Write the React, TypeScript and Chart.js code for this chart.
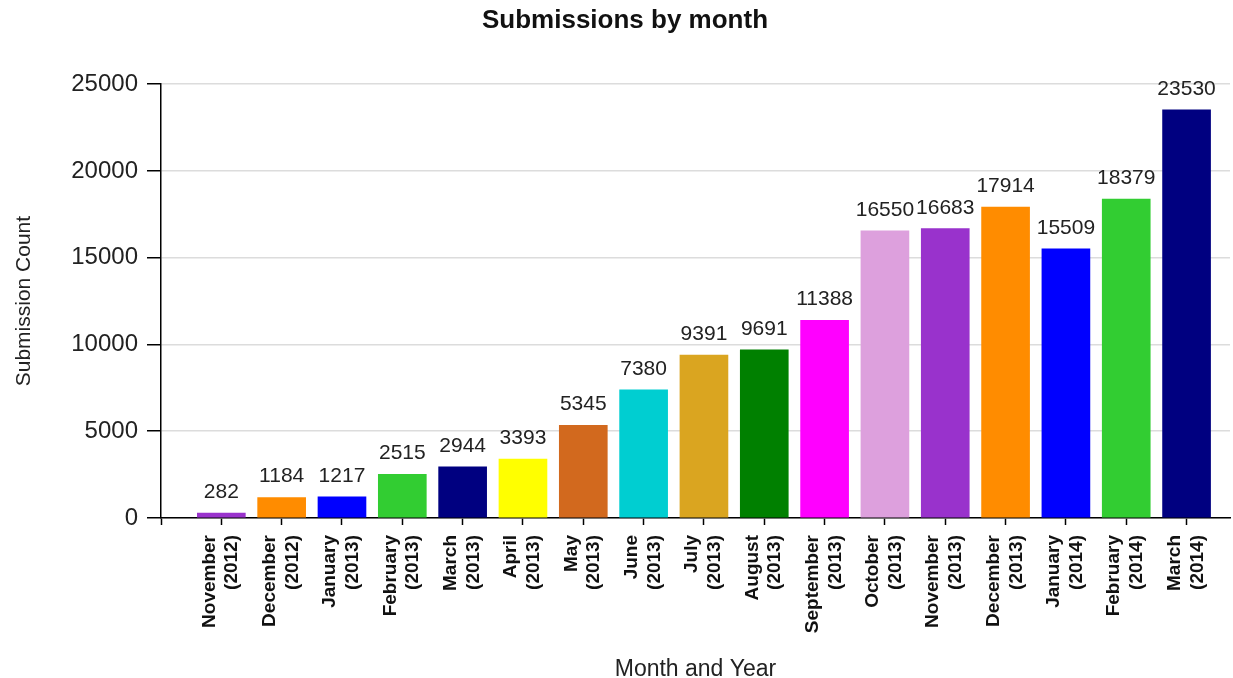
import React, { useEffect, useRef } from "react";
import { Chart, registerables } from "chart.js";

Chart.register(...registerables);

const monthLabels: string[][] = [
  ["November", "(2012)"],
  ["December", "(2012)"],
  ["January", "(2013)"],
  ["February", "(2013)"],
  ["March", "(2013)"],
  ["April", "(2013)"],
  ["May", "(2013)"],
  ["June", "(2013)"],
  ["July", "(2013)"],
  ["August", "(2013)"],
  ["September", "(2013)"],
  ["October", "(2013)"],
  ["November", "(2013)"],
  ["December", "(2013)"],
  ["January", "(2014)"],
  ["February", "(2014)"],
  ["March", "(2014)"],
];

const submissionCounts: number[] = [
  282, 1184, 1217, 2515, 2944, 3393, 5345, 7380, 9391, 9691, 11388, 16550,
  16683, 17914, 15509, 18379, 23530,
];

const barColors: string[] = [
  "#9932CC", "#FF8C00", "#0000FF", "#32CD32", "#000080", "#FFFF00",
  "#D2691E", "#00CED1", "#DAA520", "#008000", "#FF00FF", "#DDA0DD",
  "#9932CC", "#FF8C00", "#0000FF", "#32CD32", "#000080",
];

const yTicks: number[] = [0, 5000, 10000, 15000, 20000, 25000];

const FONT = "'Liberation Sans', Arial, Helvetica, sans-serif";

const valueLabelPlugin = {
  id: "valueLabels",
  afterDatasetsDraw(chart: any) {
    const ctx = chart.ctx;
    const meta = chart.getDatasetMeta(0);
    ctx.save();
    ctx.font = `21px ${FONT}`;
    ctx.fillStyle = "#222";
    ctx.textAlign = "center";
    ctx.textBaseline = "alphabetic";
    meta.data.forEach((bar: any, i: number) => {
      ctx.fillText(String(submissionCounts[i]), bar.x, bar.y - 15);
    });
    ctx.restore();
  },
};

export default function App() {
  const canvasRef = useRef<HTMLCanvasElement | null>(null);

  useEffect(() => {
    if (!canvasRef.current) return;
    const chart = new Chart(canvasRef.current, {
      type: "bar",
      data: {
        datasets: [
          {
            data: submissionCounts.map((v, i) => ({ x: i, y: v })),
            backgroundColor: barColors,
            borderWidth: 0,
            barThickness: 48,
          } as any,
        ],
      },
      options: {
        animation: false,
        responsive: true,
        maintainAspectRatio: false,
        layout: { padding: { left: 20, right: 3, top: 0, bottom: 0 } },
        font: { family: FONT },
        plugins: {
          legend: { display: false },
          tooltip: { enabled: false },
          title: {
            display: true,
            text: "Submissions by month",
            color: "#111",
            font: { family: FONT, size: 26, weight: "bold" },
            padding: { top: 5, bottom: 48 },
          },
        },
        scales: {
          x: {
            type: "linear",
            min: -1,
            max: 16.72,
            offset: false,
            grid: {
              offset: false,
              drawOnChartArea: false,
              drawTicks: true,
              tickLength: 7,
              tickColor: "#000",
              tickWidth: 1.5,
            },
            border: { color: "#000", width: 1.5 },
            ticks: {
              stepSize: 1,
              includeBounds: false,
              autoSkip: false,
              minRotation: 90,
              maxRotation: 90,
              padding: 10,
              labelOffset: -12,
              color: "#111",
              font: { family: FONT, size: 19, weight: "bold" },
              callback: (v: any) => {
                const n = Number(v);
                return Number.isInteger(n) && n >= 0 && n < monthLabels.length
                  ? monthLabels[n]
                  : "";
              },
            },
            title: {
              display: true,
              text: "Month and Year",
              color: "#222",
              font: { family: FONT, size: 23 },
              padding: { top: 0, bottom: -5 },
            },
            afterFit: (scale: any) => {
              scale.height = 160;
              scale.paddingLeft = 0;
              scale.paddingRight = 0;
            },
          } as any,
          y: {
            type: "linear",
            min: 0,
            max: 25000,
            afterBuildTicks: (scale: any) => {
              scale.ticks = yTicks.map((v) => ({ value: v }));
            },
            grid: {
              color: "#dcdcdc",
              lineWidth: 1.5,
              drawTicks: true,
              tickLength: 14,
              tickColor: "#000",
              tickWidth: 1.5,
            },
            border: { color: "#000", width: 1.5 },
            ticks: {
              padding: 9,
              color: "#222",
              font: { family: FONT, size: 24 },
              callback: (v: any) => String(v),
            },
            title: {
              display: true,
              text: "Submission Count",
              color: "#222",
              font: { family: FONT, size: 21 },
              padding: { top: -8, bottom: 0 },
            },
            afterFit: (scale: any) => {
              scale.width = 141;
            },
          } as any,
        },
      },
      plugins: [valueLabelPlugin],
    });
    return () => chart.destroy();
  }, []);

  return (
    <div
      style={{
        position: "absolute",
        left: 0,
        top: 0,
        width: 1233,
        height: 678,
        background: "#fff",
      }}
    >
      <canvas ref={canvasRef} />
    </div>
  );
}
